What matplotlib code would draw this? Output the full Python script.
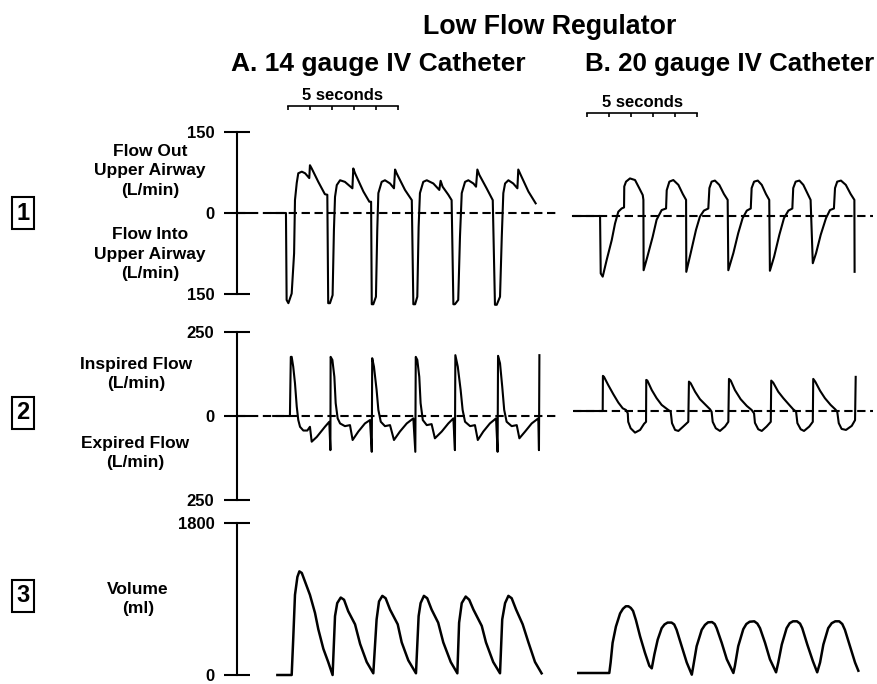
import matplotlib
matplotlib.use("Agg")
import matplotlib.pyplot as plt

plt.rcParams["font.family"] = ["Liberation Sans", "DejaVu Sans"]
plt.rcParams["font.weight"] = "bold"

# ---- traces (time in s, value in axis units) ----
# row 1: flow out of / into upper airway (L/min)
r1a_t = [0.03, 0.68, 0.71, 0.79, 0.94, 1.05, 1.09, 1.17, 1.24, 1.40, 1.55, 1.74, 1.77, 1.85, 2.15, 2.45, 2.56,
         2.60, 2.68, 2.80, 2.86, 2.91, 2.99, 3.14, 3.36, 3.70, 3.74, 3.82, 4.20, 4.47,
         4.55, 4.58, 4.65, 4.77, 4.83, 4.88, 5.03, 5.18, 5.41, 5.59, 5.64, 5.71, 6.09, 6.40,
         6.47, 6.55, 6.65, 6.71, 6.77, 6.92, 7.08, 7.38, 7.65, 7.71, 7.80, 8.06, 8.21,
         8.29, 8.36, 8.51, 8.59, 8.67, 8.82, 8.97, 9.20, 9.32, 9.38, 9.47, 9.80, 10.08,
         10.18, 10.26, 10.41, 10.49, 10.56, 10.64, 10.79, 11.01, 11.20, 11.24, 11.35, 11.70, 12.03]
r1a_v = [0, 0, -162, -168, -150, -75, 24, 56, 74, 77, 74, 65, 89, 83, 58, 35, 34,
         -168, -168, -153, -32, 30, 52, 61, 58, 46, 83, 74, 40, 21,
         21, -170, -170, -156, -32, 37, 58, 61, 55, 46, 81, 74, 43, 24,
         -170, -170, -156, -26, 37, 58, 61, 55, 43, 60, 49, 34, 24,
         -170, -170, -162, -44, 37, 58, 61, 55, 49, 81, 71, 46, 24,
         -171, -171, -156, -44, 37, 55, 61, 55, 46, 81, 71, 40, 18]

r1b_t = [0.0, 1.23, 1.26, 1.35, 1.53, 1.76, 1.91, 2.06, 2.21, 2.32, 2.33, 2.41, 2.59, 2.82, 3.01, 3.17, 3.20,
         3.21, 3.38, 3.62, 3.80, 4.03, 4.23, 4.26, 4.38, 4.56, 4.79, 4.99, 5.14,
         5.15, 5.35, 5.59, 5.77, 5.95, 6.15, 6.20, 6.30, 6.45, 6.65, 6.86, 7.03,
         7.06, 7.29, 7.51, 7.71, 7.90, 8.08, 8.12, 8.23, 8.40, 8.58, 8.77, 8.92,
         8.95, 9.14, 9.38, 9.59, 9.79, 9.97, 10.01, 10.12, 10.29, 10.47, 10.67, 10.80,
         10.90, 11.05, 11.26, 11.50, 11.68, 11.86, 11.91, 12.01, 12.18, 12.40, 12.62, 12.79, 12.80]
r1b_v = [0, 0, -107, -113, -82, -45, -14, 8, 14, 16, 55, 64, 70, 67, 52, 39, 30,
         -101, -76, -39, -7, 11, 14, 48, 64, 67, 58, 41, 30,
         -104, -69, -26, -1, 10, 14, 52, 64, 66, 58, 41, 30,
         -101, -69, -32, -4, 10, 14, 52, 64, 66, 58, 41, 30,
         -102, -76, -35, -4, 10, 14, 52, 64, 66, 58, 41, 30,
         -88, -69, -35, -4, 11, 14, 52, 64, 66, 58, 41, 30, -104]

# row 2: inspired / expired flow (L/min)
r2a_t = [0.10, 0.86, 0.90, 0.94, 1.01, 1.09, 1.17, 1.24, 1.32, 1.47, 1.65, 1.77, 1.85, 2.08, 2.45, 2.65,
         2.70, 2.71, 2.79, 2.88, 2.94, 3.03, 3.14, 3.36, 3.59, 3.71, 3.97, 4.27, 4.50,
         4.58, 4.60, 4.68, 4.80, 4.88, 4.99, 5.18, 5.41, 5.59, 5.86, 6.17, 6.47,
         6.56, 6.58, 6.65, 6.74, 6.80, 6.90, 7.08, 7.30, 7.45, 7.76, 8.06, 8.29,
         8.36, 8.38, 8.49, 8.62, 8.71, 8.82, 9.05, 9.27, 9.40, 9.65, 9.95, 10.23,
         10.30, 10.32, 10.41, 10.51, 10.60, 10.71, 10.94, 11.17, 11.29, 11.55, 11.85, 12.15,
         12.18, 12.20]
r2a_v = [0, 0, 175, 175, 146, 97, 28, -12, -32, -43, -43, -32, -76, -62, -32, -17,
         -101, 175, 166, 116, 38, -7, -22, -30, -27, -71, -46, -22, -12,
         -106, 171, 146, 77, 18, -17, -30, -27, -71, -46, -22, -7,
         -106, 175, 166, 116, 38, -12, -27, -24, -66, -46, -22, -7,
         -101, 180, 146, 77, 18, -17, -30, -27, -71, -46, -22, -7,
         -106, 178, 156, 87, 18, -17, -30, -27, -66, -46, -22, -7,
         -101, 180]

r2b_t = [0.1, 1.35, 1.36, 1.41, 1.60, 1.83, 2.06, 2.26, 2.41, 2.49, 2.51, 2.62, 2.82, 3.05, 3.23, 3.32,
         3.33, 3.38, 3.58, 3.80, 4.03, 4.29, 4.44, 4.50, 4.64, 4.79, 5.01, 5.24,
         5.27, 5.35, 5.55, 5.77, 6.03, 6.23, 6.30, 6.35, 6.49, 6.68, 6.91, 7.06,
         7.09, 7.17, 7.36, 7.62, 7.90, 8.12, 8.23, 8.27, 8.42, 8.58, 8.80, 8.99,
         9.01, 9.10, 9.33, 9.56, 9.83, 10.01, 10.14, 10.20, 10.35, 10.50, 10.74, 10.90,
         10.92, 11.01, 11.23, 11.45, 11.71, 11.92, 12.01, 12.08, 12.21, 12.41, 12.67, 12.82, 12.85]
r2b_v = [0, 0, 104, 101, 77, 50, 25, 8, 3, -7, -32, -51, -64, -56, -38, -32,
         92, 90, 62, 38, 18, 5, -2, -36, -56, -59, -46, -32,
         87, 82, 57, 35, 18, 5, -2, -32, -51, -59, -46, -32,
         95, 90, 62, 35, 15, 3, -7, -35, -54, -59, -46, -32,
         90, 84, 57, 38, 18, 5, -2, -36, -54, -59, -46, -32,
         95, 87, 60, 38, 18, 5, -2, -36, -53, -56, -44, -27, 101]

# row 3: volume (ml)
r3a_t = [0.29, 0.94, 1.01, 1.09, 1.20, 1.29, 1.40, 1.55, 1.77, 2.00, 2.15, 2.38, 2.60, 2.80,
         2.91, 3.01, 3.17, 3.32, 3.51, 3.82, 4.05, 4.35, 4.65,
         4.80, 4.91, 5.06, 5.21, 5.41, 5.76, 5.94, 6.24, 6.59,
         6.71, 6.80, 6.95, 7.10, 7.30, 7.60, 7.83, 8.17, 8.47,
         8.55, 8.67, 8.85, 9.01, 9.20, 9.58, 9.77, 10.10, 10.41,
         10.51, 10.64, 10.79, 10.94, 11.14, 11.44, 11.70, 12.00, 12.30]
r3a_v = [0, 0, 426, 949, 1161, 1227, 1208, 1103, 949, 735, 542, 310, 154, 0,
         697, 851, 917, 891, 755, 600, 368, 154, 20,
         658, 871, 937, 909, 775, 600, 387, 174, 20,
         697, 851, 937, 909, 775, 619, 387, 154, 20,
         619, 851, 929, 891, 775, 581, 387, 154, 20,
         658, 851, 937, 909, 775, 600, 387, 154, 20]

r3b_t = [0.24, 1.65, 1.71, 1.80, 1.95, 2.14, 2.27, 2.40, 2.52, 2.63, 2.73, 2.86, 3.05, 3.27, 3.47, 3.58,
         3.70, 3.85, 4.03, 4.16, 4.30, 4.48, 4.60, 4.71, 4.94, 5.17, 5.40,
         5.47, 5.62, 5.85, 6.00, 6.14, 6.32, 6.44, 6.53, 6.76, 6.99, 7.29,
         7.36, 7.51, 7.74, 7.88, 8.03, 8.24, 8.38, 8.50, 8.73, 8.95, 9.23,
         9.33, 9.49, 9.71, 9.85, 10.00, 10.18, 10.32, 10.42, 10.65, 10.90, 11.10,
         11.23, 11.38, 11.60, 11.76, 11.92, 12.10, 12.24, 12.36, 12.59, 12.82, 12.97]
r3b_v = [0, 0, 124, 357, 549, 705, 760, 790, 790, 770, 735, 627, 433, 240, 85, 55,
         221, 395, 531, 575, 597, 597, 575, 511, 317, 124, -20,
         85, 317, 511, 570, 600, 603, 580, 531, 357, 163, 0,
         85, 317, 519, 580, 607, 612, 585, 531, 357, 163, 8,
         124, 337, 531, 590, 612, 612, 585, 531, 337, 143, 8,
         124, 337, 531, 590, 612, 612, 580, 511, 317, 124, 27]

# scale bars and axis ticks
scale_len = 5
scale_a_start = 0.77
scale_b_start = 0.64
row_ticks = [[-150, 0, 150], [-250, 0, 250], [0, 1800]]
row_ticklabels = [["150", "0", "150"], ["250", "0", "250"], ["0", "1800"]]
row_ylims = [(-175, 160), (-260, 260), (-60, 1830)]
dash_end_a = [13.0, 13.0, None]
dash_end_b = [13.64, 13.64, None]

# ---- layout (pixels) ----
W, H = 878, 684
PX_PER_S = 22.0
fig = plt.figure(figsize=(W / 100, H / 100), dpi=100)


def px_axes(x0, x1, y_top, y_bot):
    return fig.add_axes([x0 / W, 1 - y_bot / H, (x1 - x0) / W, (y_bot - y_top) / H])


def panel(x0, x1, t0_px, zero_py, units_per_px, ylim):
    ax = px_axes(x0, x1, zero_py - ylim[1] / units_per_px, zero_py - ylim[0] / units_per_px)
    ax.set_xlim((x0 - t0_px) / PX_PER_S, (x1 - t0_px) / PX_PER_S)
    ax.set_ylim(*ylim)
    ax.patch.set_visible(False)
    for s in ax.spines.values():
        s.set_visible(False)
    ax.set_xticks([])
    ax.set_yticks([])
    return ax


LW = 1.5
DASH = (0, (4.0, 2.2))
col_a = dict(x0=237, x1=560, t0_px=271)
col_b = dict(x0=565, x1=878, t0_px=573)
zeros_a = [213, 416, 675]
zeros_b = [216, 411, 673]
scales = [1.863, 2.959, 11.84]  # units per pixel
traces = [(r1a_t, r1a_v, r1b_t, r1b_v), (r2a_t, r2a_v, r2b_t, r2b_v), (r3a_t, r3a_v, r3b_t, r3b_v)]

for i in range(3):
    ta, va, tb, vb = traces[i]
    axa = panel(zero_py=zeros_a[i], units_per_px=scales[i], ylim=row_ylims[i], **col_a)
    axb = panel(zero_py=zeros_b[i], units_per_px=scales[i], ylim=row_ylims[i], **col_b)

    # vertical scale bar on the left
    sp = axa.spines["left"]
    sp.set_visible(True)
    sp.set_linewidth(LW)
    sp.set_bounds(row_ticks[i][0], row_ticks[i][-1])
    axa.set_yticks(row_ticks[i])
    axa.set_yticklabels(row_ticklabels[i])
    axa.tick_params(axis="y", direction="inout", length=18.5, width=LW, pad=7, labelsize=12)

    if dash_end_a[i] is not None:
        axa.plot([axa.get_xlim()[0], dash_end_a[i]], [0, 0], color="black", lw=LW, ls=DASH)
        axb.plot([0, dash_end_b[i]], [0, 0], color="black", lw=LW, ls=DASH)

    row_lw = LW if i < 2 else 1.8
    axa.plot(ta, va, color="black", lw=row_lw, clip_on=False, solid_joinstyle="round")
    axb.plot(tb, vb, color="black", lw=row_lw, clip_on=False, solid_joinstyle="round")

    if i == 0:
        # time scale bars above the top row
        for col, start, bar_y in [(col_a, scale_a_start, 106), (col_b, scale_b_start, 113)]:
            sax = px_axes(col["x0"], col["x1"], 80, 125)
            sax.set_xlim((col["x0"] - col["t0_px"]) / PX_PER_S, (col["x1"] - col["t0_px"]) / PX_PER_S)
            sax.set_ylim(125, 80)
            sax.axis("off")
            secs = [start + k for k in range(scale_len + 1)]
            sax.plot([secs[0], secs[-1]], [bar_y, bar_y], color="black", lw=1.2)
            sax.vlines(secs, bar_y, bar_y + 3.5, color="black", lw=1.2)
            sax.text((secs[0] + secs[-1]) / 2, bar_y - 3, "5 seconds", ha="center", va="bottom",
                     fontsize=12, weight="bold")


def ftext(x, y, s, **kw):
    fig.text(x / W, 1 - y / H, s, ha="center", va="center", weight="bold", **kw)


ftext(550, 27, "Low Flow Regulator", fontsize=19.3)
ftext(378, 64, "A. 14 gauge IV Catheter", fontsize=19)
ftext(730, 64, "B. 20 gauge IV Catheter", fontsize=18.6)

LAB = dict(fontsize=12.5, linespacing=1.4)
ftext(150, 171, "Flow Out\nUpper Airway\n(L/min)", **LAB)
ftext(150, 254, "Flow Into\nUpper Airway\n(L/min)", **LAB)
ftext(136, 374, "Inspired Flow\n(L/min)", **LAB)
ftext(135, 453, "Expired Flow\n(L/min)", **LAB)
ftext(138, 599, "Volume\n(ml)", **LAB)

box = dict(boxstyle="square,pad=0.2", fc="white", ec="black", lw=1.5)
for label, y in [("1", 213), ("2", 413), ("3", 596)]:
    ftext(23, y, label, fontsize=17, bbox=box)

fig.savefig("out.png", dpi=100)
